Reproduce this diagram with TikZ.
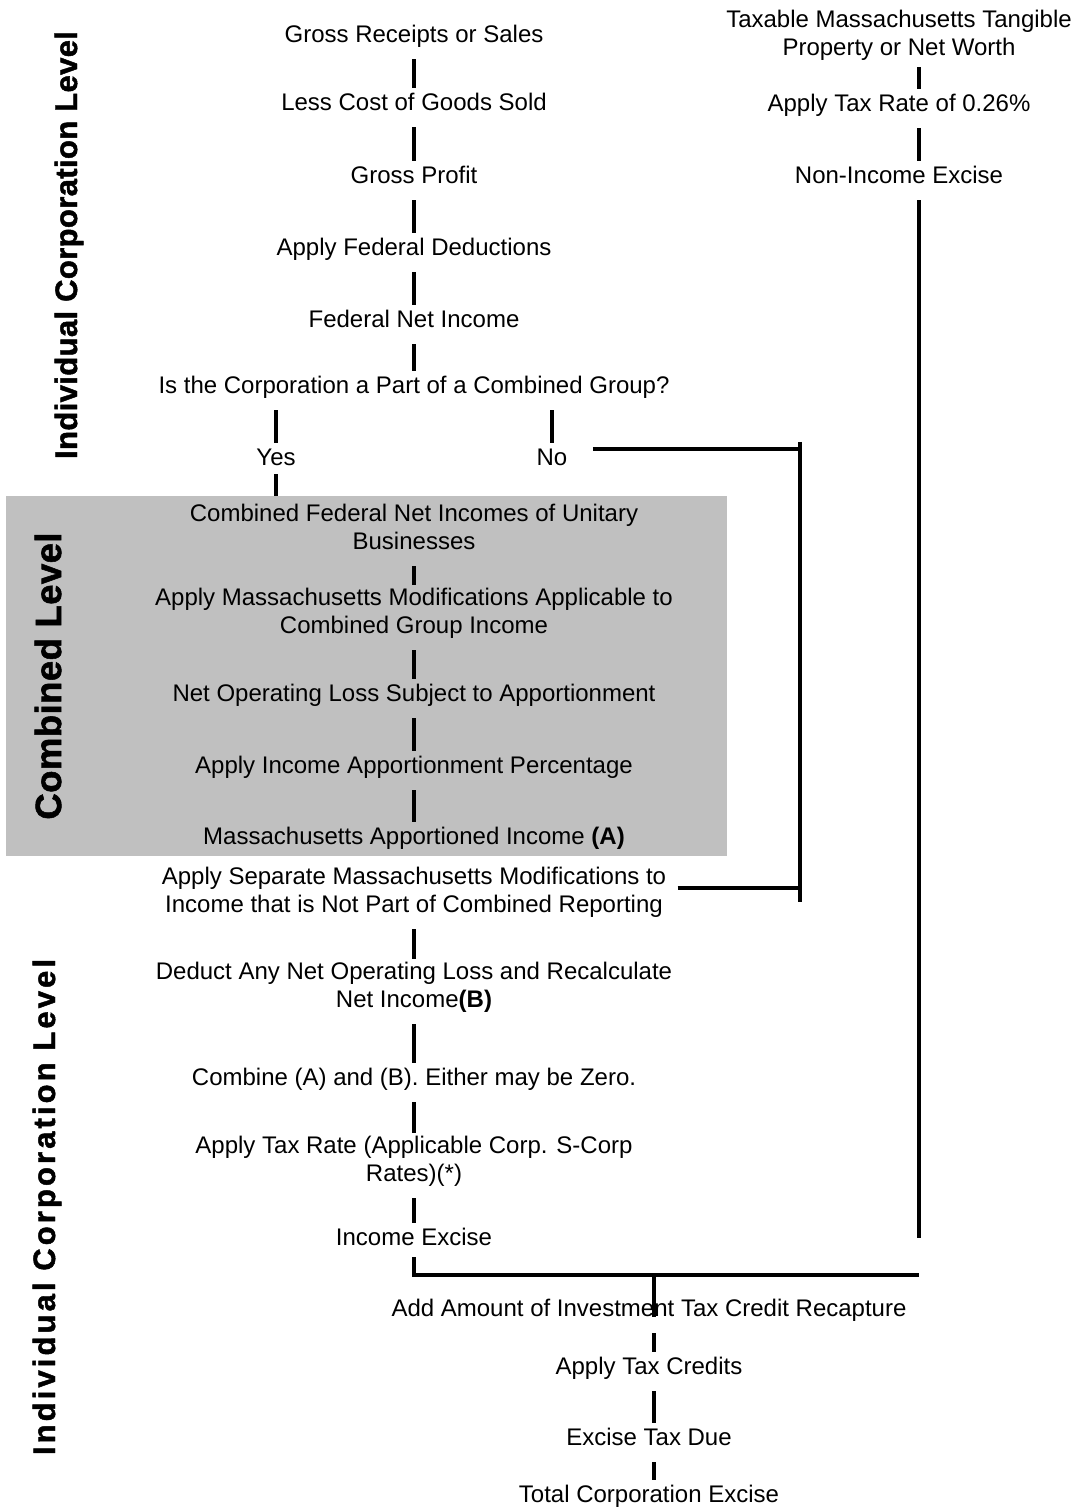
\documentclass[tikz,border=0pt]{standalone}
\usepackage{fontspec}
\setmainfont{Liberation Sans}
\newfontfamily\tightlabel[LetterSpace=1.2, BoldFeatures={FakeBold=1.5}]{Liberation Sans}
\newfontfamily\widelabel[LetterSpace=10, BoldFeatures={FakeBold=1.5}]{Liberation Sans}
\definecolor{boxgray}{RGB}{192,192,192}
\tikzset{
  entry/.style={inner sep=0pt, align=center, font=\fontsize{12}{14}\selectfont,
    execute at begin node=\strut, execute at end node=\strut},
  link/.style={line width=1.6pt, shorten <=4pt, shorten >=1.5pt},
  bus/.style={line width=1.6pt},
  sidelabel/.style={inner sep=0pt, rotate=90}
}
\begin{document}
\begin{tikzpicture}[x=0.5pt,y=-0.5pt]
  \useasboundingbox (0,0) rectangle (1079,1507);
  % combined level panel
  \fill[boxgray] (6,496) rectangle (727,856);
  \node[sidelabel, font=\tightlabel\bfseries\fontsize{15.5}{18}\selectfont] (indtop) at (69,245) {Individual Corporation Level};
  \node[sidelabel, font=\tightlabel\bfseries\fontsize{18.25}{21}\selectfont] (comblabel) at (48,676) {Combined Level};
  \node[sidelabel, font=\widelabel\bfseries\fontsize{15.5}{18}\selectfont] (indbot) at (47,1207) {Individual Corporation Level};

  % income column
  \node[entry] (gross) at (414,37) {Gross Receipts or Sales};
  \node[entry] (cogs) at (414,105) {Less Cost of Goods Sold};
  \node[entry] (gprofit) at (414,178) {Gross Profit};
  \node[entry] (fedded) at (414,250) {Apply Federal Deductions};
  \node[entry] (fedni) at (414,322) {Federal Net Income};
  \node[entry] (question) at (414,388) {Is the Corporation a Part of a Combined Group?};
  \node[entry] (yes) at (276,460) {Yes};
  \node[entry] (no) at (552,460) {No};
  \node[entry] (cfni) at (414,531) {Combined Federal Net Incomes of Unitary\\Businesses};
  \node[entry] (mamod) at (414,615) {Apply Massachusetts Modifications Applicable to\\Combined Group Income};
  \node[entry] (nol) at (414,696) {Net Operating Loss Subject to Apportionment};
  \node[entry] (apport) at (414,768) {Apply Income Apportionment Percentage};
  \node[entry] (maai) at (414,839) {Massachusetts Apportioned Income \textbf{(A)}};
  \node[entry] (sepmod) at (414,894) {Apply Separate Massachusetts Modifications to\\Income that is Not Part of Combined Reporting};
  \node[entry] (deduct) at (414,989) {Deduct Any Net Operating Loss and Recalculate\\Net Income\textbf{(B)}};
  \node[entry] (combine) at (414,1080) {Combine (A) and (B). Either may be Zero.};
  \node[entry] (taxrate) at (414,1163) {Apply Tax Rate (Applicable Corp. S-Corp\\Rates)(*)};
  \node[entry] (incexc) at (414,1240) {Income Excise};

  % non-income column
  \node[entry] (taxable) at (899,37) {Taxable Massachusetts Tangible\\Property or Net Worth};
  \node[entry] (rate) at (899,106) {Apply Tax Rate of 0.26\%};
  \node[entry] (nonincome) at (899,178) {Non-Income Excise};

  % totals
  \node[entry] (itc) at (649,1311) {Add Amount of Investment Tax Credit Recapture};
  \node[entry] (credits) at (649,1369) {Apply Tax Credits};
  \node[entry] (due) at (649,1440) {Excise Tax Due};
  \node[entry] (total) at (649,1497) {Total Corporation Excise};

  \coordinate (bustop) at (800,442);
  \coordinate (busbot) at (800,902);
  \coordinate (nojoin) at (800,449);
  \coordinate (sepjoin) at (800,888);
  \coordinate (boxtop) at (276,496);
  \coordinate (rightend) at (919,1238);
  \coordinate (mergeR) at (919,1275);
  \coordinate (mergeM) at (654,1275);

  \draw[link] (gross) -- (cogs);
  \draw[link] (cogs) -- (gprofit);
  \draw[link] (gprofit) -- (fedded);
  \draw[link] (fedded) -- (fedni);
  \draw[link] (fedni) -- (question);
  \draw[link] (yes |- question.south) -- (yes);
  \draw[link] (no |- question.south) -- (no);
  \draw[bus] (yes.south) -- (boxtop);
  \draw[link] (cfni) -- (mamod);
  \draw[link] (mamod) -- (nol);
  \draw[link] (nol) -- (apport);
  \draw[link] (apport) -- (maai);
  \draw[link] (sepmod) -- (deduct);
  \draw[link] (deduct) -- (combine);
  \draw[link] (combine) -- (taxrate);
  \draw[link] (taxrate) -- (incexc);

  % the "No" branch
  \draw[bus] (bustop) -- (busbot);
  \draw[bus, shorten <=12.5pt] (no.east |- nojoin) -- (nojoin);
  \draw[bus, shorten <=5.5pt] (sepmod.east |- sepjoin) -- (sepjoin);

  \draw[link, shorten <=1.5pt] ([xshift=10pt]taxable.south) -- ([xshift=10pt]rate.north);
  \draw[link] ([xshift=10pt]rate.south) -- ([xshift=10pt]nonincome.north);
  \draw[link, shorten >=0pt] ([xshift=10pt]nonincome.south) -- (rightend);

  \draw[bus, shorten <=1.5pt] (incexc.south) |- (mergeR);
  \draw[bus] (mergeM) -- (mergeM |- itc.base);
  \draw[link] ([xshift=2.5pt]itc.south) -- ([xshift=2.5pt]credits.north);
  \draw[link] ([xshift=2.5pt]credits.south) -- ([xshift=2.5pt]due.north);
  \draw[link] ([xshift=2.5pt]due.south) -- ([xshift=2.5pt]total.north);
\end{tikzpicture}
\end{document}
